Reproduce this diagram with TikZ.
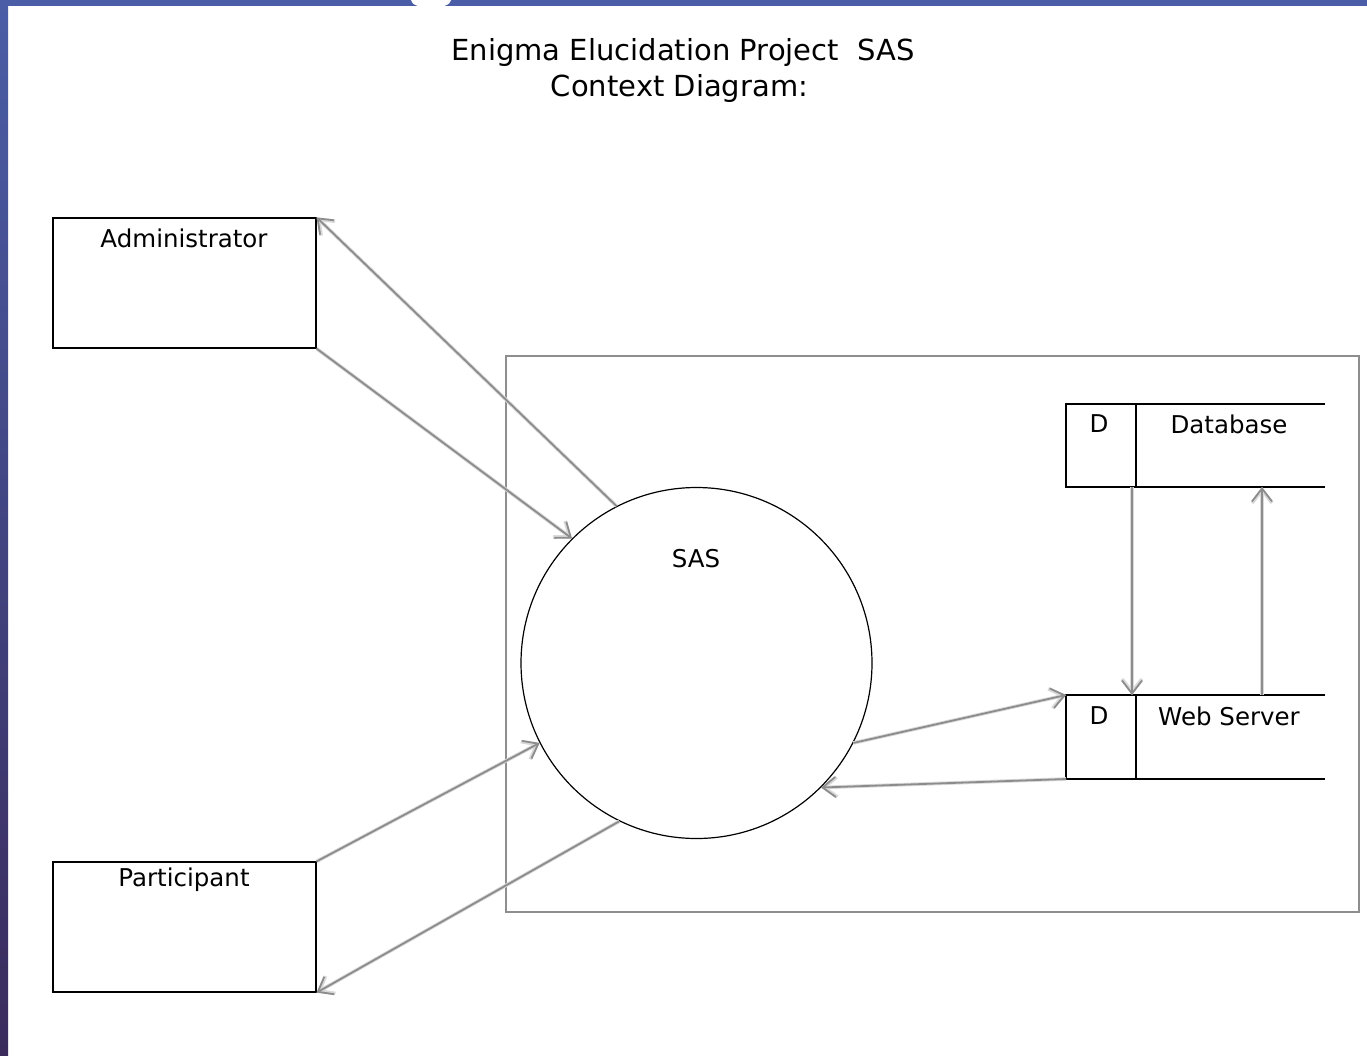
\documentclass[tikz,border=0pt]{standalone}
\usepackage{fontspec}
\setmainfont{DejaVu Sans}
\usetikzlibrary{arrows.meta}
\definecolor{bandblue}{HTML}{4A5DA6}
\definecolor{stripbot}{HTML}{3A2B5C}
\definecolor{flowgray}{HTML}{8C8C8C}
\definecolor{boundgray}{HTML}{8E8E8E}
\tikzset{
  entity/.style={draw=black, line width=1.2pt, minimum width=263pt, minimum height=130pt, inner sep=0pt},
  lbl/.style={font=\fontsize{24.5}{29}\selectfont, inner sep=0pt, anchor=center},
  ttl/.style={font=\fontsize{29}{36}\selectfont, inner sep=0pt},
  storeline/.style={draw=black, line width=1.2pt},
  flow/.style={draw=flowgray, line width=1.8pt, -{Straight Barb[length=13pt,width=20pt]},
    preaction={draw=gray!30, line width=3.6pt, -{Straight Barb[length=13pt,width=20pt]}}}
}
\begin{document}
\begin{tikzpicture}[x=1pt,y=-1pt]
\useasboundingbox (0,0) rectangle (1367,1055);
\fill[white] (0,0) rectangle (1367,1055);
\shade[top color=bandblue, bottom color=stripbot] (0,0) rectangle (8,1055);
\fill[bandblue] (0,0) rectangle (1367,6);
\fill[white] (431,0) ellipse [x radius=20, y radius=8];

% title
\node[ttl] (title1) at (683,52) {Enigma Elucidation Project\ \ SAS};
\node[ttl] (title2) at (679.5,88) {Context Diagram:};

% system boundary
\node[draw=boundgray, line width=1.4pt, minimum width=853pt, minimum height=556pt, inner sep=0pt] (bound) at (932.5,634) {};

% external entities
\node[entity] (admin) at (184.5,283) {};
\node[lbl] (admint) at (184,238) {Administrator};
\node[entity] (part) at (184.5,927) {};
\node[lbl] (partt) at (184,880) {Participant};

% process
\node[circle, draw=black, line width=1.2pt, minimum size=351pt, inner sep=0pt] (sas) at (696.5,663) {};
\node[lbl] (sast) at (696,559) {SAS};

% data stores
\coordinate (dbtl) at (1066,404);
\coordinate (dbtr) at (1325,404);
\coordinate (dbbl) at (1066,487);
\coordinate (dbbr) at (1325,487);
\coordinate (dbdt) at (1136,404);
\coordinate (dbdb) at (1136,487);
\draw[storeline] (dbtr) -- (dbtl) -- (dbbl) -- (dbbr);
\draw[storeline] (dbdt) -- (dbdb);
\node[lbl] (dbd) at (1099,424) {D};
\node[lbl] (dbt) at (1229,424) {Database};

\coordinate (wstl) at (1066,695);
\coordinate (wstr) at (1325,695);
\coordinate (wsbl) at (1066,779);
\coordinate (wsbr) at (1325,779);
\coordinate (wsdt) at (1136,695);
\coordinate (wsdb) at (1136,779);
\draw[storeline] (wstr) -- (wstl) -- (wsbl) -- (wsbr);
\draw[storeline] (wsdt) -- (wsdb);
\node[lbl] (wsd) at (1099,716) {D};
\node[lbl] (wst) at (1229,716) {Web Server};

% flows
\draw[flow] (sas.117) -- (admin.north east);
\draw[flow] (admin.south east) -- (sas.135);
\draw[flow] (part.north east) -- (sas.207);
\draw[flow] (sas.244) -- (part.south east);
\draw[flow] (sas.333) -- (wstl);
\draw[flow] (wsbl) -- (sas.315);
\coordinate (dbdown) at (1132,487);
\coordinate (wsdown) at (1132,695);
\coordinate (wsup) at (1262,695);
\coordinate (dbup) at (1262,487);
\draw[flow] (dbdown) -- (wsdown);
\draw[flow] (wsup) -- (dbup);
\end{tikzpicture}
\end{document}
